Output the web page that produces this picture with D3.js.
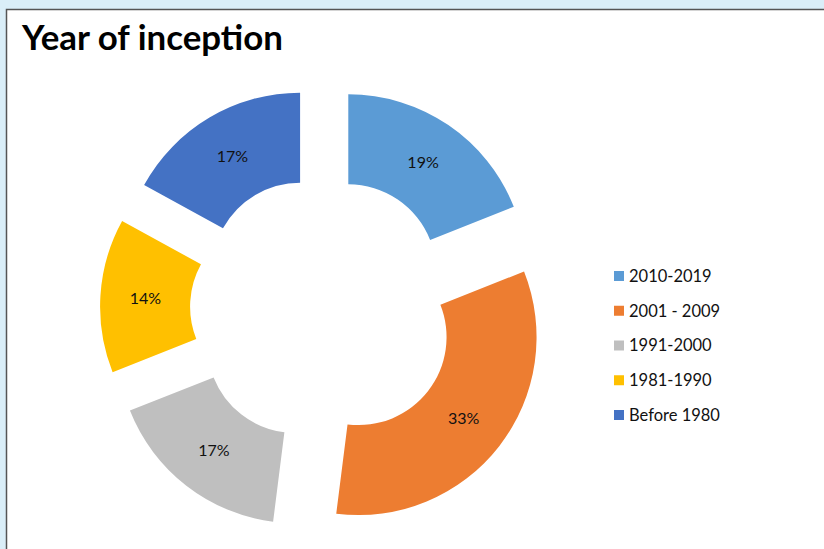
<!DOCTYPE html>
<html><head><meta charset="utf-8">
<script src="https://cdn.jsdelivr.net/npm/d3@7"></script>
<style>body{margin:0;background:#daeef8;}svg{display:block;}</style>
</head><body>
<svg id="c" width="824" height="549"></svg>
<script>
const categories = ["2010-2019", "2001 - 2009", "1991-2000", "1981-1990", "Before 1980"];
const values = [19, 33, 17, 14, 17];
const colors = ["#5b9bd5", "#ed7d31", "#bfbfbf", "#ffc000", "#4472c4"];
const title = "Year of inception";

const svg = d3.select("#c");
svg.append("rect").attr("x", 0).attr("y", 0).attr("width", 824).attr("height", 549).attr("fill", "#daeef8");
svg.append("rect").attr("x", 6.5).attr("y", 9.5).attr("width", 830).attr("height", 560)
  .attr("fill", "#fff").attr("stroke", "#555").attr("stroke-width", 1.5);

svg.append("text").attr("x", 22).attr("y", 50).text(title)
  .attr("font-family", "Lato, sans-serif").attr("font-weight", "bold").attr("font-size", 34)
  .attr("textLength", 261).attr("lengthAdjust", "spacingAndGlyphs").attr("fill", "#000");

const cx = 323, cy = 309.5, R = 178, r = 88, explode = 45;
const pie = d3.pie().sort(null).value(d => d)(values);
const arc = d3.arc().innerRadius(r).outerRadius(R);
const g = svg.append("g").attr("transform", `translate(${cx},${cy})`);
const sl = g.selectAll("g.s").data(pie).enter().append("g").attr("class", "s")
  .attr("transform", d => { const a = (d.startAngle + d.endAngle) / 2; return `translate(${explode * Math.sin(a)},${-explode * Math.cos(a)})`; });
sl.append("path").attr("d", arc).attr("fill", (d, i) => colors[i]);
sl.append("text").attr("transform", d => `translate(${arc.centroid(d)})`)
  .attr("text-anchor", "middle").attr("dy", "0.36em")
  .attr("font-family", "Lato, sans-serif").attr("font-size", 16).attr("fill", "#111")
  .text(d => d.data + "%");

const lg = svg.append("g");
const ly = d3.scalePoint().domain(categories).range([276, 415]);
categories.forEach((c, i) => {
  lg.append("rect").attr("x", 614).attr("y", ly(c) - 5).attr("width", 10).attr("height", 10).attr("fill", colors[i]);
  lg.append("text").attr("x", 629).attr("y", ly(c)).attr("dy", "0.36em")
    .attr("font-family", "Lato, sans-serif").attr("font-size", 16.5).attr("fill", "#111").text(c);
});
</script>
</body></html>
